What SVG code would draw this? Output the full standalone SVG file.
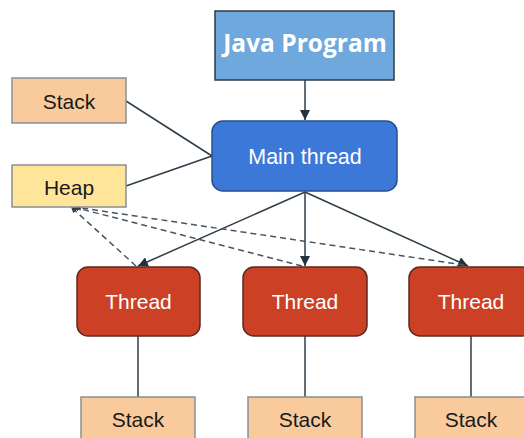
<svg xmlns="http://www.w3.org/2000/svg" width="524" height="438" viewBox="0 0 524 438">
<style>
text{font-family:"Liberation Sans",Arial,sans-serif;font-size:21px;text-anchor:middle}
.w{fill:#fff}
.k{fill:#1a1a1a}
.stack{fill:#f9cb9c;stroke:#8a8f94;stroke-width:1.5}
.heap{fill:#ffe599;stroke:#8a8f94;stroke-width:1.5}
.thread{fill:#cc4125;stroke:#5a2a20;stroke-width:1.5}
.ln{stroke:#2e3d48;stroke-width:1.5;fill:none}
.ds{stroke:#4a5560;stroke-width:1.5;fill:none;stroke-dasharray:6,4}
</style>
<defs>
<marker id="ah" viewBox="0 0 10 10" refX="10" refY="5" markerWidth="10" markerHeight="10" markerUnits="userSpaceOnUse" orient="auto">
<path d="M0,0 L10,5 L0,10 z" fill="#1f3340"/>
</marker>
<marker id="sh" viewBox="0 0 10 10" refX="10" refY="5" markerWidth="6" markerHeight="6" markerUnits="userSpaceOnUse" orient="auto">
<path d="M0,0 L10,5 L0,10 z" fill="#2e3d48"/>
</marker>
</defs>
<g id="connectors">
<line class="ln" x1="305" y1="80" x2="305" y2="120" marker-end="url(#ah)"/>
<line class="ln" x1="126" y1="101" x2="212" y2="156"/>
<line class="ln" x1="126" y1="186" x2="212" y2="156"/>
<line class="ln" x1="305" y1="192" x2="138" y2="266" marker-end="url(#ah)"/>
<line class="ln" x1="305" y1="192" x2="305" y2="266" marker-end="url(#ah)"/>
<line class="ln" x1="305" y1="192" x2="468" y2="266" marker-end="url(#ah)"/>
<line class="ds" x1="136" y1="266" x2="71" y2="207" marker-end="url(#sh)"/>
<line class="ds" x1="302" y1="266" x2="73" y2="207" marker-end="url(#sh)"/>
<line class="ds" x1="464" y1="265" x2="75" y2="207" marker-end="url(#sh)"/>
<line class="ln" x1="138" y1="336" x2="138" y2="397"/>
<line class="ln" x1="305" y1="336" x2="305" y2="397"/>
<line class="ln" x1="471" y1="336" x2="471" y2="397"/>
</g>
<g id="java-program">
<rect x="215" y="11" width="179" height="69" fill="#6fa8dc" stroke="#2b3a46" stroke-width="1.5"/>
<text class="w" x="305" y="52" style="font-family:'Open Sans','Liberation Sans',sans-serif;font-weight:bold;font-size:24.5px">Java Program</text>
</g>
<g id="main-thread">
<rect x="212" y="121" width="185" height="70" rx="11" fill="#3c78d8" stroke="#234f8c" stroke-width="1.5"/>
<text class="w" x="305" y="164" style="font-size:21.5px">Main thread</text>
</g>
<g id="stack-main">
<rect class="stack" x="12" y="78" width="114" height="45"/>
<text class="k" x="69" y="109">Stack</text>
</g>
<g id="heap">
<rect class="heap" x="12" y="165" width="114" height="42"/>
<text class="k" x="69" y="195">Heap</text>
</g>
<g id="thread-1">
<rect class="thread" x="77" y="267" width="123" height="69" rx="11"/>
<text class="w" x="138.5" y="309">Thread</text>
</g>
<g id="thread-2">
<rect class="thread" x="243" y="267" width="124" height="69" rx="11"/>
<text class="w" x="305" y="309">Thread</text>
</g>
<g id="thread-3">
<rect class="thread" x="409" y="267" width="124" height="69" rx="11"/>
<text class="w" x="471" y="309">Thread</text>
</g>
<g id="stack-1">
<rect class="stack" x="81" y="397" width="114" height="50"/>
<text class="k" x="138" y="427">Stack</text>
</g>
<g id="stack-2">
<rect class="stack" x="248" y="397" width="114" height="50"/>
<text class="k" x="305" y="427">Stack</text>
</g>
<g id="stack-3">
<rect class="stack" x="415" y="397" width="114" height="50"/>
<text class="k" x="471" y="427">Stack</text>
</g>
</svg>
